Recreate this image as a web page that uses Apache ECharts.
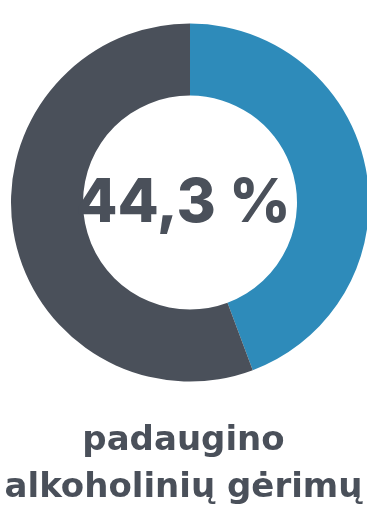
<!DOCTYPE html>
<html>
<head>
<meta charset="utf-8">
<script src="https://cdn.jsdelivr.net/npm/echarts@6/dist/echarts.min.js"></script>
<style>
  html, body { margin: 0; padding: 0; background: #fff; }
  #chart { width: 367px; height: 508px; }
</style>
</head>
<body>
<div id="chart"></div>
<script>
    // share of respondents, %
    const sliceNames = ['padaugino', 'kiti'];
    const sliceValues = [44.3, 55.7];
    const sliceColors = ['#2e8bba', '#4a505a'];
    const centerLabel = '44,3 %';
    const captionLines = ['padaugino', 'alkoholinių gėrimų'];

    const textColor = '#4a505a';

    const chart = echarts.init(document.getElementById('chart'));

    chart.setOption({
        backgroundColor: '#fff',
        animation: false,
        title: [
            {
                text: centerLabel,
                left: 'center',
                top: 169,
                textStyle: {
                    color: textColor,
                    fontFamily: 'Inter',
                    fontWeight: 800,
                    fontSize: 60,
                },
            },
            {
                text: captionLines.join('\n'),
                left: 'center',
                top: 413,
                textStyle: {
                    color: textColor,
                    fontFamily: 'DejaVu Sans',
                    fontWeight: 'bold',
                    fontSize: 34,
                    lineHeight: 47,
                },
            },
        ],
        series: [
            {
                type: 'pie',
                center: [190, 202.5],
                radius: [107, 179],
                startAngle: 90,
                clockwise: true,
                silent: true,
                label: { show: false },
                labelLine: { show: false },
                itemStyle: { borderWidth: 0 },
                data: sliceValues.map((v, i) => ({
                    name: sliceNames[i],
                    value: v,
                    itemStyle: { color: sliceColors[i] },
                })),
            },
        ],
    });
</script>
</body>
</html>
